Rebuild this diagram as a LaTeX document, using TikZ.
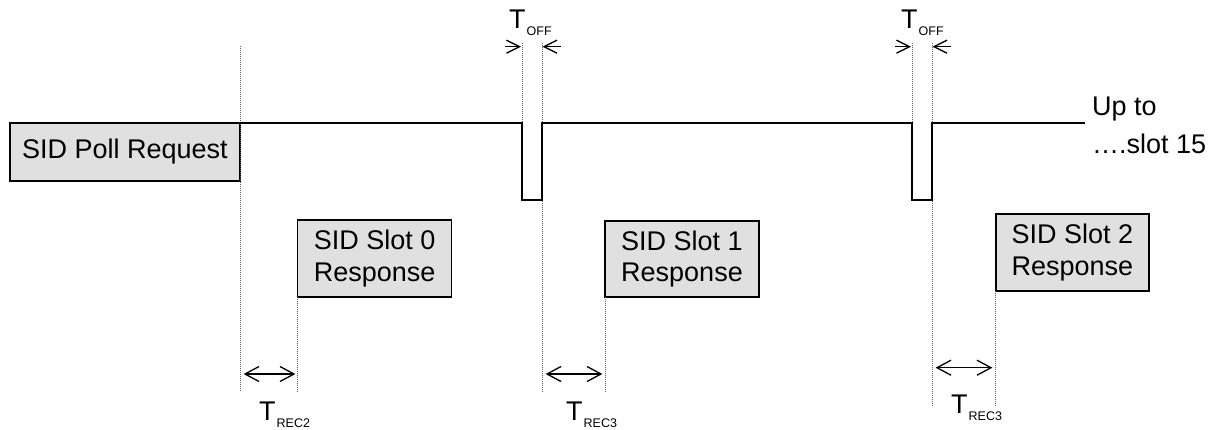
\documentclass[tikz,border=0pt]{standalone}
\usepackage{fontspec}
\setmainfont{Liberation Sans}
\definecolor{boxgray}{HTML}{E0E0E0}
\definecolor{dotgray}{HTML}{606060}
\tikzset{
  sbox/.style={draw=black, fill=boxgray, line width=1.5pt, inner sep=0pt, outer sep=0pt,
    align=center, font=\fontsize{27}{31.5}\selectfont},
  signal/.style={draw=black, line width=1.3pt},
  guide/.style={draw=dotgray, line width=1pt, dash pattern=on 1pt off 1pt},
  shaft/.style={draw=black, line width=1.3pt},
  headline/.style={draw=black, line width=1.3pt, line join=miter},
  tlabel/.style={anchor=base west, inner sep=0pt, font=\fontsize{27}{30}\selectfont},
  uptext/.style={anchor=north west, inner sep=0pt, align=left, font=\fontsize{27}{38}\selectfont}
}
\newcommand{\tsub}[1]{T\kern1pt\raisebox{-7pt}{\fontsize{12.5}{13}\selectfont #1}}
% open ">" head pointing right / left at a named coordinate
\newcommand{\headR}[3]{\draw[headline] ($(#1)+(-#2,#3)$) -- (#1) -- ($(#1)+(-#2,-#3)$);}
\newcommand{\headL}[3]{\draw[headline] ($(#1)+(#2,#3)$) -- (#1) -- ($(#1)+(#2,-#3)$);}
\usetikzlibrary{calc}
\begin{document}
\begin{tikzpicture}[x=1pt, y=-1pt]
\useasboundingbox (0,0) rectangle (1220,429);

% boxes
\node[sbox, minimum width=230pt, minimum height=58pt] (poll) at (125,152) {SID Poll Request};
\node[sbox, minimum width=154pt, minimum height=77pt] (s0) at (374.7,258.5) {SID Slot 0\\Response};
\node[sbox, minimum width=154pt, minimum height=76pt] (s1) at (682,259) {SID Slot 1\\Response};
\node[sbox, minimum width=153pt, minimum height=77pt] (s2) at (1072.4,252.4) {SID Slot 2\\Response};

% signal coordinates
\coordinate (a1) at (522,123);
\coordinate (a2) at (522,200);
\coordinate (a3) at (542,200);
\coordinate (a4) at (542,123);
\coordinate (b1) at (912,123);
\coordinate (b2) at (912,200);
\coordinate (b3) at (932,200);
\coordinate (b4) at (932,123);
\coordinate (send) at (1085,123);

% guide line ends
\coordinate (g1t) at (240,46);
\coordinate (g1b) at (240,392);
\coordinate (g2b) at (s0.south west |- 0,392);
\coordinate (g3t) at (522,43);
\coordinate (g4t) at (542,43);
\coordinate (g4b) at (542,392);
\coordinate (g5b) at (s1.south west |- 0,392);
\coordinate (g6t) at (912,43);
\coordinate (g7t) at (932,43);
\coordinate (g7b) at (932,406);
\coordinate (g8b) at (s2.south west |- 0,406);

% dotted guides
\draw[guide] (g1t) -- (g1b);
\draw[guide] (s0.south west) -- (g2b);
\draw[guide] (g3t) -- (a1);
\draw[guide] (g4t) -- (g4b);
\draw[guide] (s1.south west) -- (g5b);
\draw[guide] (g6t) -- (b1);
\draw[guide] (g7t) -- (g7b);
\draw[guide] (s2.south west) -- (g8b);

% signal line
\draw[signal] (poll.north east) -- (a1) -- (a2) -- (a3) -- (a4) -- (b1) -- (b2) -- (b3) -- (b4) -- (send);

% T_OFF arrows
\coordinate (o1l) at (505,46.7);
\coordinate (o1lt) at (519.5,46.7);
\coordinate (o1r) at (561,46.7);
\coordinate (o1rt) at (544,46.7);
\coordinate (o2l) at (895,46.7);
\coordinate (o2lt) at (909.5,46.7);
\coordinate (o2r) at (951,46.7);
\coordinate (o2rt) at (934,46.7);
\draw[shaft] (o1l) -- (o1lt); \headR{o1lt}{13}{6.5}
\draw[shaft] (o1r) -- (o1rt); \headL{o1rt}{13}{6.5}
\draw[shaft] (o2l) -- (o2lt); \headR{o2lt}{13}{6.5}
\draw[shaft] (o2r) -- (o2rt); \headL{o2rt}{13}{6.5}

% T_REC arrows
\coordinate (r1a) at (245,374);
\coordinate (r1b) at (294,374);
\coordinate (r2a) at (547,374);
\coordinate (r2b) at (601,374);
\coordinate (r3a) at (937,367.7);
\coordinate (r3b) at (991,367.7);
\draw[shaft] (r1a) -- (r1b); \headL{r1a}{14}{7.5} \headR{r1b}{14}{7.5}
\draw[shaft] (r2a) -- (r2b); \headL{r2a}{14}{7.5} \headR{r2b}{14}{7.5}
\draw[shaft] (r3a) -- (r3b); \headL{r3a}{14}{7.5} \headR{r3b}{14}{7.5}

% labels
\node[tlabel] (toff1) at (509,28) {\tsub{OFF}};
\node[tlabel] (toff2) at (901,28) {\tsub{OFF}};
\node[tlabel] (trec2) at (259,420) {\tsub{REC2}};
\node[tlabel] (trec3a) at (566,420) {\tsub{REC3}};
\node[tlabel] (trec3b) at (951,413) {\tsub{REC3}};

\node[uptext] (upto) at (1092,96.5) {Up to\\….slot 15};
\end{tikzpicture}
\end{document}
